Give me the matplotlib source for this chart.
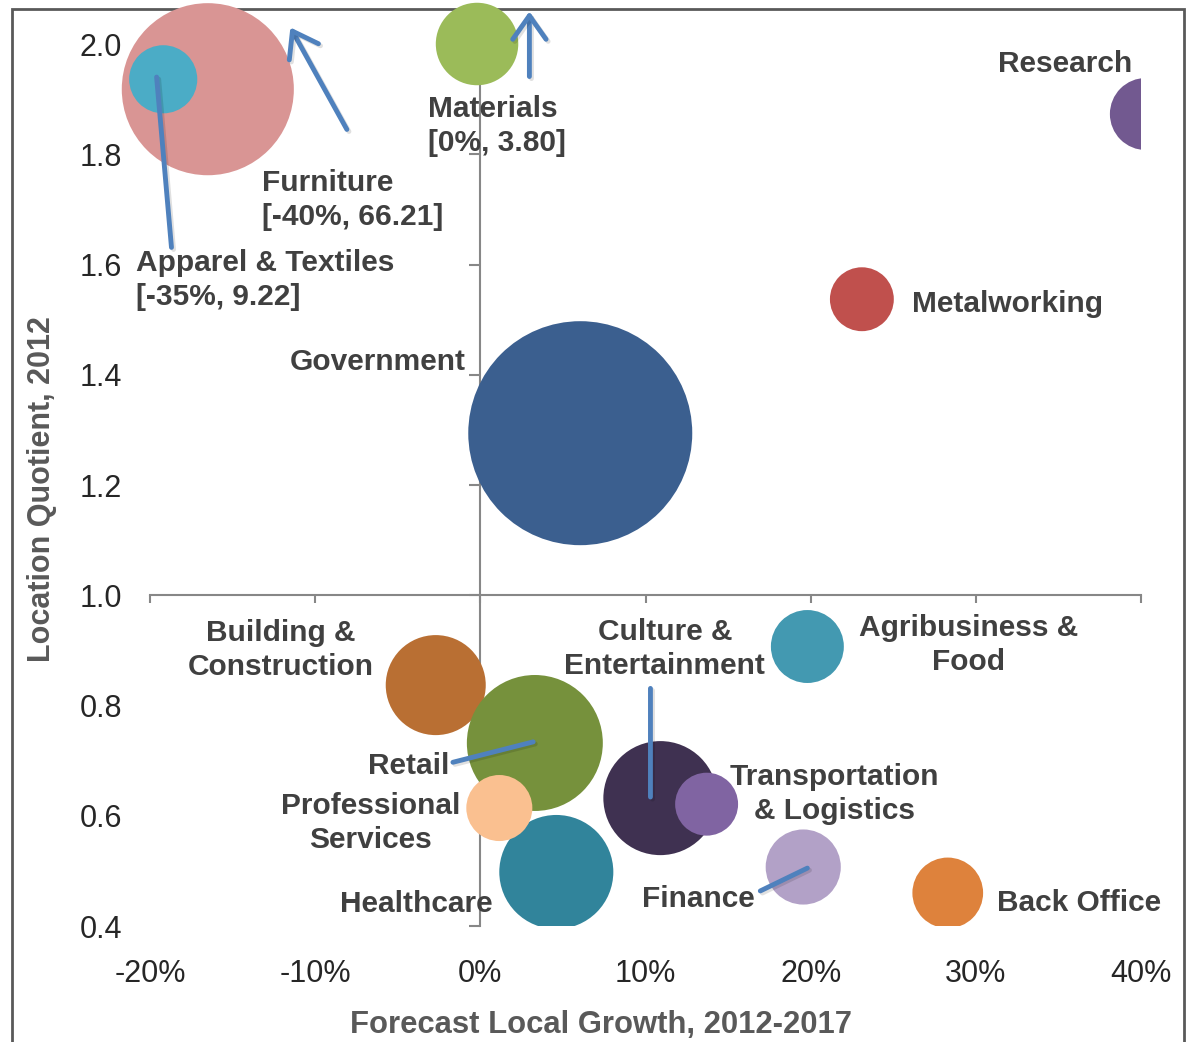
import matplotlib
matplotlib.use('Agg')
import matplotlib.pyplot as plt
from matplotlib.patches import Rectangle
import matplotlib.patheffects as pe

plt.rcParams['font.family'] = ['Liberation Sans', 'DejaVu Sans']

# ---------------- data ----------------
industries = ['Furniture', 'Apparel & Textiles', 'Materials', 'Research', 'Metalworking',
              'Government', 'Building & Construction', 'Retail', 'Healthcare',
              'Professional Services', 'Culture & Entertainment', 'Transportation & Logistics',
              'Agribusiness & Food', 'Finance', 'Back Office']
# plotted position (forecast growth %, location quotient)
growth = [-16.5, -19.2, -0.2, 40.3, 23.1, 6.05, -2.7, 3.3, 4.6, 1.15, 10.9, 13.7, 19.8, 19.55, 28.3]
lq = [1.918, 1.936, 2.0, 1.873, 1.537, 1.294, 0.837, 0.732, 0.498, 0.614, 0.632, 0.621, 0.907, 0.507, 0.460]
bubble_size = [74.0, 11.6, 17.0, 13.0, 10.2, 125.4, 25.0, 46.2, 32.5, 10.9, 32.5, 9.9, 13.3, 14.1, 12.5]
colors = ['#d99594', '#4bacc6', '#9bbb59', '#725990', '#c0504d', '#3b5f8f', '#b96f33', '#76913c',
          '#31849b', '#fac090', '#3f3151', '#8064a2', '#4399b1', '#b2a1c7', '#de823c']

x_ticks = [-20, -10, 0, 10, 20, 30, 40]
x_tick_labels = ['-20%', '-10%', '0%', '10%', '20%', '30%', '40%']
y_ticks = [0.4, 0.6, 0.8, 1.0, 1.2, 1.4, 1.6, 1.8, 2.0]
y_tick_labels = ['0.4', '0.6', '0.8', '1.0', '1.2', '1.4', '1.6', '1.8', '2.0']

label_texts = ['Furniture\n[-40%, 66.21]', 'Apparel & Textiles\n[-35%, 9.22]', 'Materials\n[0%, 3.80]',
               'Research', 'Metalworking', 'Government', 'Building &\nConstruction', 'Retail',
               'Healthcare', 'Professional\nServices', 'Culture &\nEntertainment',
               'Transportation\n& Logistics', 'Agribusiness &\nFood', 'Finance', 'Back Office']

# ---------------- layout ----------------
label_pos = [(-13.2, 1.722, 'left'), (-20.82, 1.577, 'left'), (-3.15, 1.856, 'left'),
             (35.41, 1.968, 'center'), (31.9, 1.533, 'center'), (-6.23, 1.428, 'center'),
             (-12.1, 0.906, 'center'), (-4.36, 0.695, 'center'), (-3.90, 0.445, 'center'),
             (-6.63, 0.592, 'center'), (11.17, 0.907, 'center'), (21.46, 0.645, 'center'),
             (29.57, 0.914, 'center'), (13.23, 0.454, 'center'), (36.23, 0.447, 'center')]
label_dy = -0.005
# leader lines: (start, end, has_head)
leaders = [((-18.7, 1.631), (-19.6, 1.940), False),
           ((-8.08, 1.845), (-11.5, 2.030), True),
           ((2.97, 1.941), (2.97, 2.059), True),
           ((10.3, 0.831), (10.3, 0.634), False),
           ((-1.66, 0.697), (3.2, 0.734), False),
           ((16.95, 0.4636), (19.8, 0.505), False)]

W, H = 1190, 1042
fig = plt.figure(figsize=(W / 100, H / 100), dpi=100)
ax = fig.add_axes([150 / W, 1 - 926 / H, (1141 - 150) / W, (926 - 44) / H])
ax.set_xlim(-20, 40)
ax.set_ylim(0.4, 2.0)

max_diam_px = 224
smax = max(bubble_size)
sizes = [(v / smax) * (max_diam_px * 0.72) ** 2 for v in bubble_size]
sc = ax.scatter(growth, lq, s=sizes, c=colors, linewidths=0, zorder=3)
# bubbles are only cut at the right and bottom edges of the plot area
clip = Rectangle((-0.5, 0), 1.5, 1.5, transform=ax.transAxes)
sc.set_clip_path(clip)

axis_col = '#878787'
for side in ['top', 'right']:
    ax.spines[side].set_visible(False)
ax.spines['bottom'].set_position(('data', 1.0))
ax.spines['left'].set_position(('data', 0.0))
for side in ['bottom', 'left']:
    ax.spines[side].set_color(axis_col)
    ax.spines[side].set_linewidth(1.5)
ax.set_xticks(x_ticks)
ax.set_yticks(y_ticks)
ax.tick_params(axis='x', direction='out', length=6, width=1.5, color=axis_col, labelbottom=False)
ax.tick_params(axis='y', direction='out', length=8, width=1.5, color=axis_col, labelleft=False)

secx = ax.secondary_xaxis('bottom')
secx.set_xticks(x_ticks, labels=x_tick_labels)
secx.tick_params(length=0, pad=24, labelsize=22, labelcolor='#262626')
secy = ax.secondary_yaxis('left')
secy.set_yticks(y_ticks, labels=y_tick_labels)
secy.tick_params(length=0, pad=20, labelsize=22, labelcolor='#262626')
for s_ax in (secx, secy):
    for sp in s_ax.spines.values():
        sp.set_visible(False)

# labels
for txt, (lx, ly, ha) in zip(label_texts, label_pos):
    ax.text(lx, ly + label_dy, txt, ha=ha, va='center', multialignment=ha, fontsize=21.5,
            fontweight='bold', color='#404040', linespacing=1.28, zorder=6, clip_on=False)

# leader lines / arrows
blue = '#4f81bd'
for (start, end, head) in leaders:
    style = '->,head_length=0.85,head_width=0.6' if head else '-'
    ax.annotate('', xy=end, xytext=start, annotation_clip=False,
                arrowprops=dict(arrowstyle=style, color=blue, lw=3.5, shrinkA=0, shrinkB=0,
                                mutation_scale=20,
                                path_effects=[pe.SimpleLineShadow(offset=(1.5, -1.5), alpha=0.12),
                                              pe.Normal()]),
                zorder=7)

# axis titles
fig.text(42 / W, 1 - 489 / H, 'Location Quotient, 2012', rotation=90, ha='center', va='center',
         fontsize=22, fontweight='bold', color='#595959')
fig.text(601 / W, 1 - 1025 / H, 'Forecast Local Growth, 2012-2017', ha='center', va='center',
         fontsize=22.3, fontweight='bold', color='#595959')

# chart frame
frame = Rectangle((12 / W, -0.1), (1184 - 12) / W, 1.1 - 9 / H, transform=fig.transFigure,
                  fill=False, edgecolor='#595959', lw=2.0, zorder=-1)
fig.add_artist(frame)

fig.savefig('out.png', dpi=100)
